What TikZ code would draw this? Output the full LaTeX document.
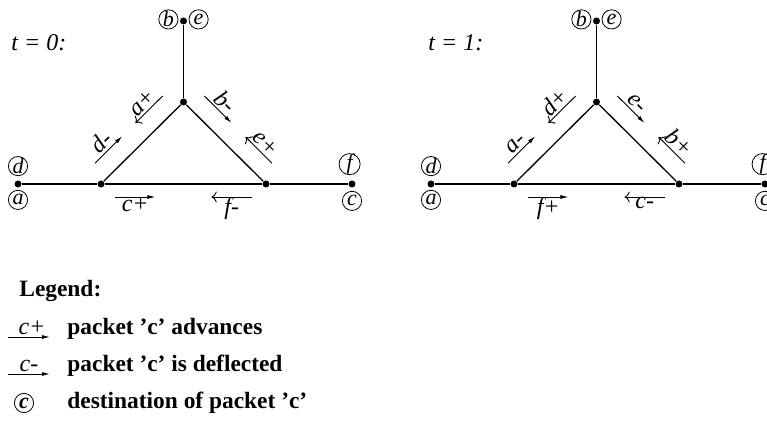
\documentclass[tikz,border=0pt]{standalone}
\usepackage{fontspec}
\setmainfont{Liberation Serif}
\usetikzlibrary{positioning,calc,arrows.meta}
\begin{document}
\begin{tikzpicture}[x=0.5pt, y=-0.5pt,
    dot/.style = {circle, fill, inner sep=0pt, minimum size=3.5pt},
    dest/.style = {draw, circle, inner sep=0pt, minimum size=9.6pt, line width=0.4pt, font=\fontsize{11}{12}\selectfont\itshape},
    link/.style = {line width=0.65pt},
    pkt/.style = {line width=0.45pt, -{Latex[length=4pt, width=2pt]}},
    lbl/.style = {font=\fontsize{12}{14}\selectfont\itshape, inner sep=0.5pt},
    legtext/.style = {font=\fontsize{11.7}{14}\selectfont\bfseries, anchor=base west, inner sep=0pt}]
    \useasboundingbox (0,0) rectangle (767,421);

    % network at t = 0
    \node[lbl, anchor=west] (t0) at (10,43) {t = 0:};
    \node[dot] (A0) at (18,184) {};
    \node[dot] (B0) at (101,184) {};
    \node[dot] (C0) at (183.5,102) {};
    \node[dot] (D0) at (266,184) {};
    \node[dot] (E0) at (352,184) {};
    \node[dot] (F0) at (183.5,21) {};

    \node[dest] (d0) [above=2pt of A0] {d};
    \node[dest] (a0) [below=1pt of A0] {a};
    \node[dest] (b0) [left=0.6pt of F0, yshift=0.8pt] {b};
    \node[dest] (e0) [right=0.6pt of F0, yshift=0.8pt] {e};
    \node[dest] (f0) [above=2.5pt of E0, xshift=-1.2pt] {f};
    \node[dest] (c0) [below=1.5pt of E0] {c};

    \draw[link] (A0) -- (B0);
    \draw[link] (B0) -- (D0);
    \draw[link] (D0) -- (E0);
    \draw[link] (B0) -- (C0);
    \draw[link] (C0) -- (D0);
    \draw[link] (C0) -- (F0);

    \draw[pkt] ($(B0)!0.09!(C0)+(-13.4,-13.4)$) -- ($(B0)!0.42!(C0)+(-13.4,-13.4)$);
    \node[lbl, rotate=45, anchor=south] (ld0) at ($(B0)!0.255!(C0)+(-14.2,-14.2)$) {d-};
    \draw[pkt, <-] ($(B0)!0.58!(C0)+(-13.4,-13.4)$) -- ($(B0)!0.91!(C0)+(-13.4,-13.4)$);
    \node[lbl, rotate=45, anchor=south] (la0) at ($(B0)!0.745!(C0)+(-14.2,-14.2)$) {a+};
    \draw[pkt] ($(C0)!0.09!(D0)+(13.4,-13.4)$) -- ($(C0)!0.42!(D0)+(13.4,-13.4)$);
    \node[lbl, rotate=-45, anchor=south] (lb0) at ($(C0)!0.255!(D0)+(14.2,-14.2)$) {b-};
    \draw[pkt, <-] ($(C0)!0.59!(D0)+(13.4,-13.4)$) -- ($(C0)!0.91!(D0)+(13.4,-13.4)$);
    \node[lbl, rotate=-45, anchor=south] (le0) at ($(C0)!0.75!(D0)+(14.2,-14.2)$) {e+};
    \draw[pkt] ($(B0)!0.085!(D0)+(0,13)$) -- ($(B0)!0.33!(D0)+(0,13)$) node[lbl, midway, below, inner sep=0pt] {c+};
    \draw[pkt, <-] ($(B0)!0.67!(D0)+(0,13)$) -- ($(B0)!0.915!(D0)+(0,13)$) node[lbl, midway, below, inner sep=0pt] {f-};

    % network at t = 1
    \node[lbl, anchor=west] (t1) at (427,43) {t = 1:};
    \node[dot] (A1) at (431,184) {};
    \node[dot] (B1) at (514,184) {};
    \node[dot] (C1) at (596.5,102) {};
    \node[dot] (D1) at (679,184) {};
    \node[dot] (E1) at (765,184) {};
    \node[dot] (F1) at (596.5,21) {};

    \node[dest] (d1) [above=2pt of A1] {d};
    \node[dest] (a1) [below=1pt of A1] {a};
    \node[dest] (b1) [left=0.6pt of F1, yshift=0.8pt] {b};
    \node[dest] (e1) [right=0.6pt of F1, yshift=0.8pt] {e};
    \node[dest] (f1) [above=2.5pt of E1, xshift=-1.2pt] {f};
    \node[dest] (c1) [below=1.5pt of E1] {c};

    \draw[link] (A1) -- (B1);
    \draw[link] (B1) -- (D1);
    \draw[link] (D1) -- (E1);
    \draw[link] (B1) -- (C1);
    \draw[link] (C1) -- (D1);
    \draw[link] (C1) -- (F1);

    \draw[pkt] ($(B1)!0.09!(C1)+(-13.4,-13.4)$) -- ($(B1)!0.42!(C1)+(-13.4,-13.4)$);
    \node[lbl, rotate=45, anchor=south] (la1) at ($(B1)!0.255!(C1)+(-14.2,-14.2)$) {a-};
    \draw[pkt, <-] ($(B1)!0.58!(C1)+(-13.4,-13.4)$) -- ($(B1)!0.91!(C1)+(-13.4,-13.4)$);
    \node[lbl, rotate=45, anchor=south] (ld1) at ($(B1)!0.745!(C1)+(-14.2,-14.2)$) {d+};
    \draw[pkt] ($(C1)!0.09!(D1)+(13.4,-13.4)$) -- ($(C1)!0.42!(D1)+(13.4,-13.4)$);
    \node[lbl, rotate=-45, anchor=south] (le1) at ($(C1)!0.255!(D1)+(14.2,-14.2)$) {e-};
    \draw[pkt, <-] ($(C1)!0.59!(D1)+(13.4,-13.4)$) -- ($(C1)!0.91!(D1)+(13.4,-13.4)$);
    \node[lbl, rotate=-45, anchor=south] (lb1) at ($(C1)!0.75!(D1)+(14.2,-14.2)$) {b+};
    \draw[pkt] ($(B1)!0.085!(D1)+(0,13)$) -- ($(B1)!0.33!(D1)+(0,13)$) node[lbl, midway, below, inner sep=0pt] {f+};
    \draw[pkt, <-] ($(B1)!0.67!(D1)+(0,13)$) -- ($(B1)!0.915!(D1)+(0,13)$) node[lbl, midway, below, inner sep=0pt] {c-};

    % legend
    \node[legtext] (leg) at (19,297) {Legend:};
    \coordinate (adv0) at (8,337);
    \coordinate (adv1) at (50,337);
    \draw[pkt] (adv0) -- (adv1) node[lbl, midway, above, inner sep=1pt, xshift=1.5pt] {c+};
    \node[legtext] (advtext) at (67,335) {packet 'c' advances};
    \coordinate (defl0) at (8,374);
    \coordinate (defl1) at (50,374);
    \draw[pkt] (defl0) -- (defl1) node[lbl, midway, above, inner sep=1pt] {c-};
    \node[legtext] (defltext) at (67,372) {packet 'c' is deflected};
    \node[dest, font=\fontsize{11}{12}\selectfont\bfseries\itshape] (destc) at (24,403) {c};
    \node[legtext] (desttext) at (67,409) {destination of packet 'c'};
\end{tikzpicture}
\end{document}
